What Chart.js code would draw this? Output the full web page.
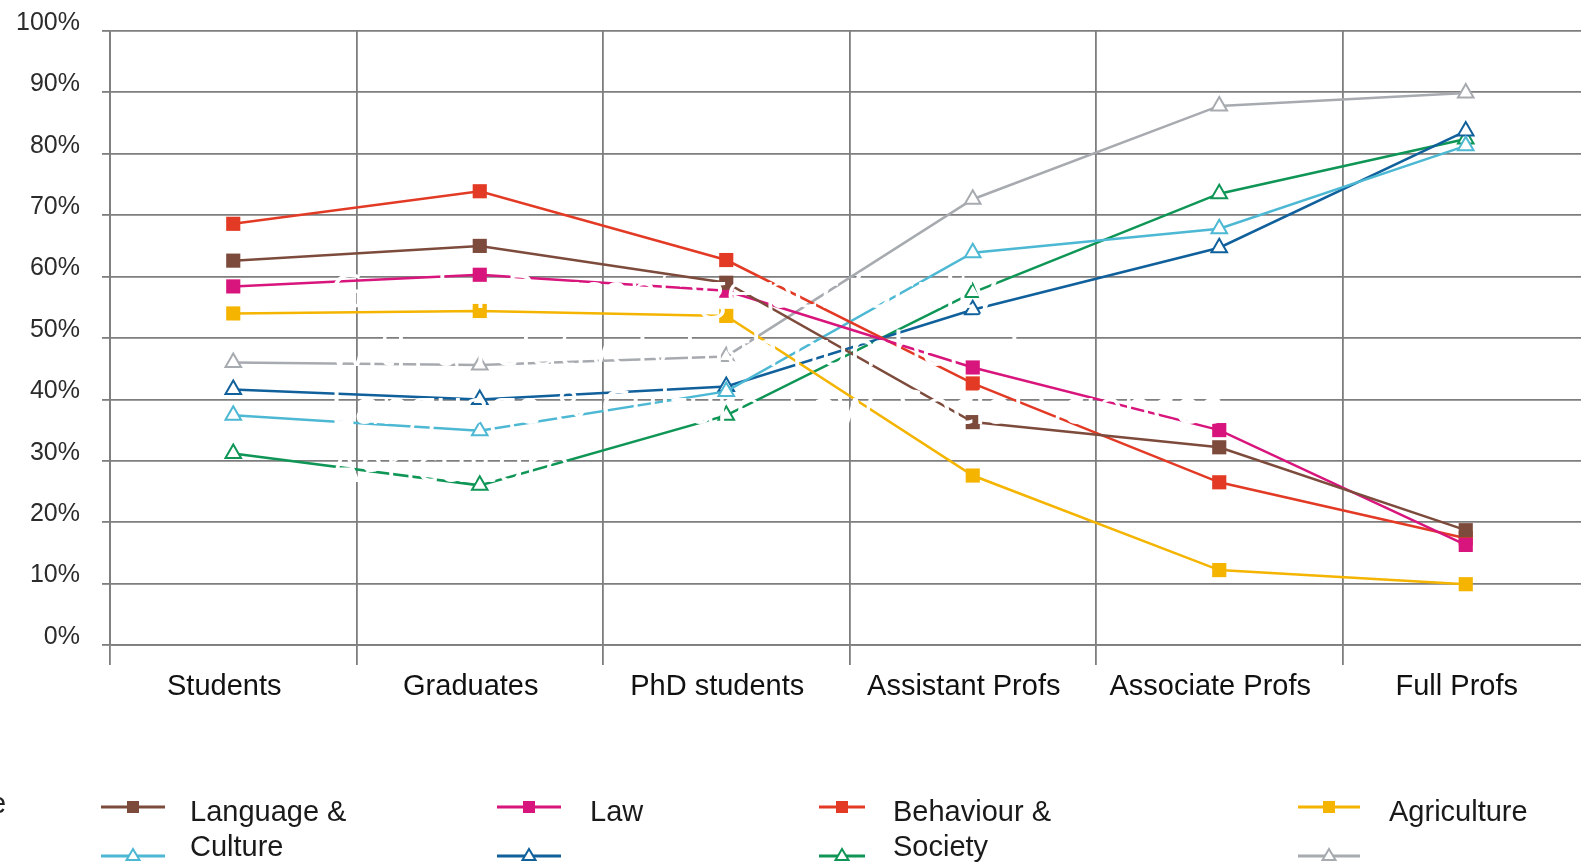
<!DOCTYPE html>
<html>
<head>
<meta charset="utf-8">
<script src="https://cdn.jsdelivr.net/npm/chart.js@4.4.1/dist/chart.umd.min.js"></script>
<style>
  html, body { margin: 0; padding: 0; background: #fff; overflow: hidden; }
  #wrap { position: relative; width: 1581px; height: 862px; overflow: hidden; }
  /* canvas is a bit wider/taller than the page: the plot runs past the right edge */
  #chart { position: absolute; left: 0; top: -6px; }
</style>
</head>
<body>
<div id="wrap"><canvas id="chart" width="1600" height="868"></canvas></div>
<script>
// categories along the x axis
const categories = ['Students', 'Graduates', 'PhD students', 'Assistant Profs', 'Associate Profs', 'Full Profs'];
const yTickValues = [0, 10, 20, 30, 40, 50, 60, 70, 80, 90, 100];

// series values (%)
const languageCulture  = [62.6, 65.0, 59.0, 36.3, 32.2, 18.7];
const law              = [58.4, 60.3, 57.7, 45.2, 35.0, 16.3];
const behaviourSociety = [68.6, 73.9, 62.7, 42.6, 26.5, 17.4];
const agriculture      = [54.0, 54.4, 53.6, 27.6, 12.2, 9.9];
const lightBlueSeries  = [37.4, 34.9, 41.3, 63.9, 67.8, 81.3];
const darkBlueSeries   = [41.6, 40.0, 42.1, 54.6, 64.7, 83.7];
const greenSeries      = [31.2, 26.0, 37.4, 57.4, 73.5, 82.4];
const greySeries       = [46.0, 45.6, 47.0, 72.6, 87.8, 89.9];

// names as legible in the legend (the second row's names are cut off)
const seriesNames = ['Language & Culture', 'Law', 'Behaviour & Society', 'Agriculture', '', '', '', ''];
const seriesColors = ['#7d4b3c', '#d8157c', '#e23a25', '#f4b400', '#4db8d3', '#10609c', '#0f9656', '#a7abb0'];
const seriesValues = [languageCulture, law, behaviourSociety, agriculture,
                      lightBlueSeries, darkBlueSeries, greenSeries, greySeries];
const seriesMarkers = ['rect', 'rect', 'rect', 'rect', 'triangle', 'triangle', 'triangle', 'triangle'];

// white heading that sits over the plot
const overlayLines = ['Gender Percentage per faculty',
                      'with a relatively high number of',
                      'Language & Culture, Law, Social Sciences',
                      'Agriculture'];

const GRID = '#7e7e7e';
const SHIFT = 6; // canvas is moved up by this much

const datasets = seriesValues.map(function (vals, i) {
    const isRect = seriesMarkers[i] === 'rect';
    return {
        label: seriesNames[i],
        data: vals,
        borderColor: seriesColors[i],
        backgroundColor: seriesColors[i],
        borderWidth: 2.5,
        tension: 0,
        pointStyle: seriesMarkers[i],
        pointRadius: isRect ? 10 : 9,
        pointBorderWidth: isRect ? 0 : 2,
        pointBorderColor: seriesColors[i],
        pointBackgroundColor: isRect ? seriesColors[i] : '#ffffff'
    };
});

/* draws the white heading on top of the lines */
const overlayText = {
    id: 'overlayText',
    afterDatasetsDraw(chart) {
        const ctx = chart.ctx;
        ctx.save();
        ctx.fillStyle = '#ffffff';
        ctx.font = '47px "Open Sans"';
        ctx.textBaseline = 'alphabetic';
        overlayLines.forEach(function (line, i) {
            ctx.fillText(line, 330, SHIFT + 308 + i * 58);
        });
        ctx.restore();
    }
};

/* legend below the plot: 4 columns, 2 rows */
const bottomLegend = {
    id: 'bottomLegend',
    afterDraw(chart) {
        const ctx = chart.ctx;
        const cols = [
            { x: 101, w: 64, tx: 190 },
            { x: 497, w: 64, tx: 590 },
            { x: 819, w: 46, tx: 893 },
            { x: 1298, w: 62, tx: 1389 }
        ];
        const rowY = [SHIFT + 807, SHIFT + 856];
        ctx.save();
        ctx.font = '29px "Liberation Sans", Arial, sans-serif';
        ctx.textBaseline = 'middle';

        // cut-off text at the left edge
        ctx.fillStyle = '#222';
        ctx.fillText('e', -10, SHIFT + 805);

        chart.data.datasets.forEach(function (ds, i) {
            const c = cols[i % 4];
            const y = rowY[Math.floor(i / 4)];
            const mx = c.x + c.w / 2;
            ctx.strokeStyle = ds.borderColor;
            ctx.lineWidth = 3;
            ctx.beginPath();
            ctx.moveTo(c.x, y);
            ctx.lineTo(c.x + c.w, y);
            ctx.stroke();
            if (ds.pointStyle === 'rect') {
                ctx.fillStyle = ds.borderColor;
                ctx.fillRect(mx - 6, y - 6, 12, 12);
            } else {
                ctx.fillStyle = '#fff';
                ctx.lineWidth = 2;
                ctx.beginPath();
                ctx.moveTo(mx, y - 7);
                ctx.lineTo(mx + 6.5, y + 4);
                ctx.lineTo(mx - 6.5, y + 4);
                ctx.closePath();
                ctx.fill();
                ctx.stroke();
            }
            // wrap the label into lines no wider than 200px
            if (!ds.label) return;
            const words = ds.label.split(' ');
            const lines = [];
            let cur = '';
            words.forEach(function (w) {
                const test = cur ? cur + ' ' + w : w;
                if (ctx.measureText(test).width > 200 && cur) {
                    lines.push(cur);
                    cur = w;
                } else {
                    cur = test;
                }
            });
            lines.push(cur);
            ctx.fillStyle = '#1a1a1a';
            lines.forEach(function (ln, k) {
                ctx.fillText(ln, c.tx, y + 6 + k * 35);
            });
        });
        ctx.restore();
    }
};

new Chart(document.getElementById('chart'), {
    type: 'line',
    data: { labels: categories, datasets: datasets },
    plugins: [overlayText, bottomLegend],
    options: {
        responsive: false,
        animation: false,
        layout: { padding: { top: 24, right: 8, bottom: 0, left: 0 } },
        plugins: {
            legend: { display: false },
            tooltip: { enabled: false },
            title: { display: false }
        },
        scales: {
            x: {
                offset: true,
                afterFit: function (scale) { scale.height = 217; },
                grid: {
                    offset: true,
                    color: GRID,
                    lineWidth: 1.8,
                    drawTicks: true,
                    tickLength: 20
                },
                border: { display: true, color: GRID, width: 1.8 },
                ticks: {
                    color: '#111',
                    padding: 5,
                    labelOffset: -9,
                    maxRotation: 0,
                    font: { family: '"Liberation Sans", Arial, sans-serif', size: 29 }
                }
            },
            y: {
                min: 0,
                max: 100,
                afterFit: function (scale) { scale.width = 110; },
                afterBuildTicks: function (scale) {
                    scale.ticks = yTickValues.map(function (v) { return { value: v }; });
                },
                grid: {
                    color: GRID,
                    lineWidth: 1.8,
                    drawTicks: true,
                    tickLength: 8
                },
                border: { display: true, color: GRID, width: 1.8 },
                ticks: {
                    color: '#2b2b2b',
                    padding: 22,
                    labelOffset: -8,
                    callback: function (v) { return v + '%'; },
                    font: { family: '"Liberation Sans", Arial, sans-serif', size: 25 }
                }
            }
        }
    }
});
</script>
</body>
</html>
